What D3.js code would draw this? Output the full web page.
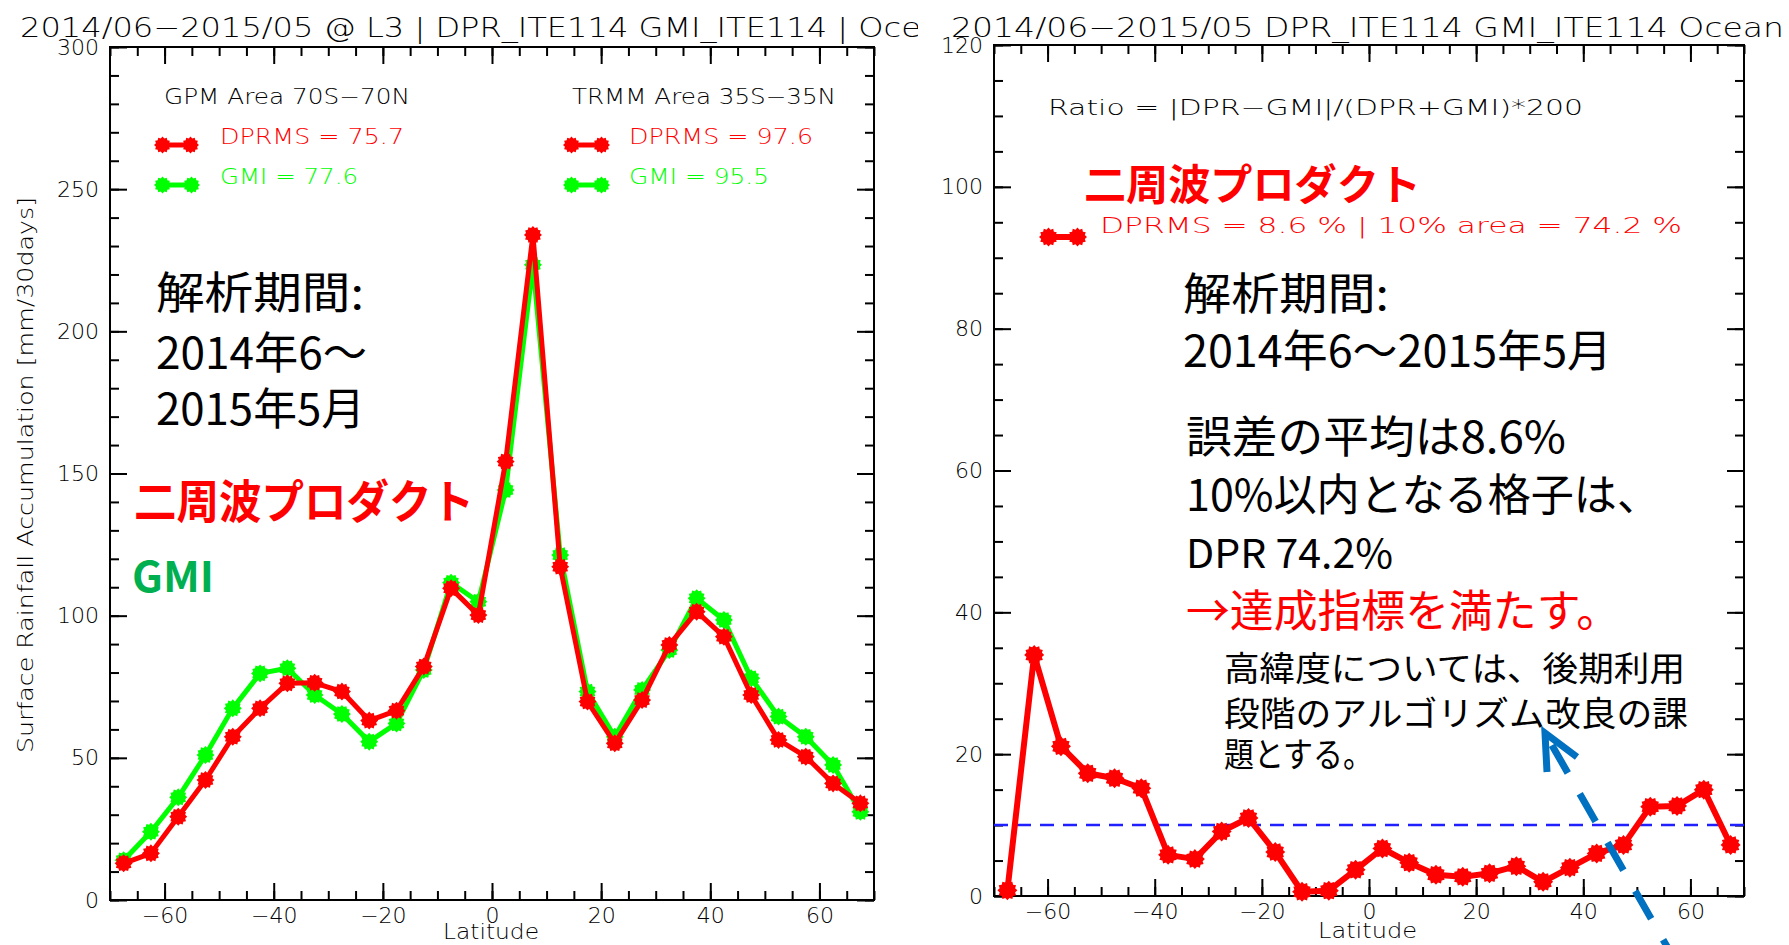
<!DOCTYPE html>
<html>
<head>
<meta charset="utf-8">
<script src="https://cdn.jsdelivr.net/npm/d3@7"></script>
<style>
  html, body { margin: 0; padding: 0; background: #fff; }
  svg { display: block; }
  .idl { font-family: "DejaVu Sans", sans-serif; font-weight: 200; }
  .jp { font-family: "Noto Sans CJK JP", "Noto Sans CJK SC", sans-serif; }
</style>
</head>
<body>
<svg id="chart" width="1789" height="945"></svg>
<script>
// Zonal mean over ocean, 5-degree latitude bins (bin centres)
const latitudes = [-67.5, -62.5, -57.5, -52.5, -47.5, -42.5, -37.5, -32.5, -27.5, -22.5,
                   -17.5, -12.5, -7.5, -2.5, 2.5, 7.5, 12.5, 17.5, 22.5, 27.5,
                   32.5, 37.5, 42.5, 47.5, 52.5, 57.5, 62.5, 67.5];

// Surface rainfall accumulation [mm/30days]
const dprAccum = [12.9, 16.4, 29.3, 42.2, 57.4, 67.4, 76.2, 76.4, 73.3, 63.1,
                  66.6, 82.1, 109.6, 100.2, 154.2, 233.9, 117.2, 69.8, 55.1, 70.3,
                  89.7, 101.4, 92.6, 72.1, 56.3, 50.4, 41.0, 34.0];
const gmiAccum = [14.0, 24.0, 36.1, 51.0, 67.4, 79.7, 81.5, 72.1, 65.4, 55.7,
                  62.1, 80.9, 111.6, 104.9, 144.2, 223.4, 121.3, 73.3, 57.4, 73.9,
                  87.9, 106.1, 98.5, 78.0, 64.5, 57.4, 47.5, 31.0];

// Ratio = |DPR-GMI|/(DPR+GMI)*200 [%]
const ratioDiff = [0.8, 34.0, 21.1, 17.3, 16.6, 15.2, 5.8, 5.2, 9.1, 11.0,
                   6.2, 0.6, 0.75, 3.7, 6.7, 4.7, 3.0, 2.7, 3.2, 4.2,
                   2.0, 4.0, 6.0, 7.2, 12.6, 12.7, 15.0, 7.2];
const ratioThreshold = 10;

// Axis ticks
const latTicks = [-60, -40, -20, 0, 20, 40, 60];
const accumTicks = [0, 50, 100, 150, 200, 250, 300];
const ratioTicks = [0, 20, 40, 60, 80, 100, 120];

const RED = "#ff0000", GREEN = "#00ff00", BLUE = "#2020ff", ARROW = "#0070c0";

const svg = d3.select("#chart");

// ---------- scales ----------
const xL = d3.scaleLinear().domain([-70, 70]).range([110, 874]);
const yL = d3.scaleLinear().domain([0, 300]).range([900, 47]);
const xR = d3.scaleLinear().domain([-70, 70]).range([994, 1744]);
const yR = d3.scaleLinear().domain([0, 120]).range([896, 45]);

// ---------- helpers ----------
function styleAxis(sel) {
  sel.select(".domain").remove();
  sel.selectAll("line").attr("stroke", "#000").attr("stroke-width", 2);
  sel.selectAll("text").attr("class", "idl").style("font-size", "22px").attr("fill", "#000");
  sel.attr("font-family", null).attr("font-size", null);
}

function frame(g, x, y, yMajor, yMinorCount) {
  const [x0, x1] = x.range();
  const [yb, yt] = y.range();
  const xMinor = x.ticks(28);
  const yMinor = y.ticks(yMinorCount);
  const none = () => "";
  // bottom
  g.append("g").attr("transform", `translate(0,${yb})`)
    .call(d3.axisBottom(x).tickValues(xMinor).tickSize(-9).tickFormat(none)).call(styleAxis);
  g.append("g").attr("transform", `translate(0,${yb})`)
    .call(d3.axisBottom(x).tickValues(latTicks).tickSize(-17).tickPadding(7)).call(styleAxis);
  // top
  g.append("g").attr("transform", `translate(0,${yt})`)
    .call(d3.axisTop(x).tickValues(xMinor).tickSize(-9).tickFormat(none)).call(styleAxis);
  g.append("g").attr("transform", `translate(0,${yt})`)
    .call(d3.axisTop(x).tickValues(latTicks).tickSize(-17).tickFormat(none)).call(styleAxis);
  // left
  g.append("g").attr("transform", `translate(${x0},0)`)
    .call(d3.axisLeft(y).tickValues(yMinor).tickSize(-9).tickFormat(none)).call(styleAxis);
  g.append("g").attr("transform", `translate(${x0},0)`)
    .call(d3.axisLeft(y).tickValues(yMajor).tickSize(-17).tickPadding(11)).call(styleAxis);
  // right
  g.append("g").attr("transform", `translate(${x1},0)`)
    .call(d3.axisRight(y).tickValues(yMinor).tickSize(-9).tickFormat(none)).call(styleAxis);
  g.append("g").attr("transform", `translate(${x1},0)`)
    .call(d3.axisRight(y).tickValues(yMajor).tickSize(-17).tickFormat(none)).call(styleAxis);
  // box
  g.append("rect").attr("x", x0).attr("y", yt).attr("width", x1 - x0).attr("height", yb - yt)
    .attr("fill", "none").attr("stroke", "#000").attr("stroke-width", 2);
}

// jagged filled disc, like the plotting symbol
function blob(r) {
  const n = 12, pts = [];
  for (let i = 0; i < n * 2; i++) {
    const a = (i / (n * 2)) * Math.PI * 2;
    const rr = i % 2 === 0 ? r : r * 0.8;
    pts.push([rr * Math.cos(a), rr * Math.sin(a)]);
  }
  return "M" + pts.map(p => p[0].toFixed(2) + "," + p[1].toFixed(2)).join("L") + "Z";
}

function series(g, x, y, values, color, width, r) {
  const data = latitudes.map((lat, i) => ({ lat, v: values[i] }));
  g.append("path").datum(data)
    .attr("fill", "none").attr("stroke", color).attr("stroke-width", width)
    .attr("stroke-linejoin", "round")
    .attr("d", d3.line().x(d => x(d.lat)).y(d => y(d.v)));
  g.selectAll(null).data(data).enter().append("path")
    .attr("transform", d => `translate(${x(d.lat)},${y(d.v)})`)
    .attr("d", blob(r)).attr("fill", color);
}

function legendMark(g, xa, xb, y, color, width, r) {
  g.append("line").attr("x1", xa + r).attr("x2", xb - r).attr("y1", y).attr("y2", y)
    .attr("stroke", color).attr("stroke-width", width);
  [xa + r, xb - r].forEach(cx => g.append("path")
    .attr("transform", `translate(${cx},${y})`).attr("d", blob(r)).attr("fill", color));
}

function label(g, text, x0, x1, cy, size, color, cls, weight) {
  return g.append("text").attr("class", cls)
    .attr("x", x0).attr("y", cy).attr("dominant-baseline", "central")
    .attr("textLength", x1 - x0).attr("lengthAdjust", "spacingAndGlyphs")
    .style("font-size", size + "px").style("font-weight", weight || null)
    .attr("fill", color).text(text);
}

// ---------- left panel: accumulation ----------
const left = svg.append("g");
svg.append("clipPath").attr("id", "leftClip").append("rect")
  .attr("x", 0).attr("y", 0).attr("width", 918).attr("height", 80);

const tL = left.append("text").attr("class", "idl").attr("clip-path", "url(#leftClip)")
  .attr("x", 20).attr("y", 27).attr("dominant-baseline", "central")
  .style("font-size", "27px").attr("fill", "#000")
  .text("2014/06\u22122015/05 @ L3 | DPR_ITE114 GMI_ITE114 | Ocean");
{
  const node = tL.node();
  const full = node.getComputedTextLength();
  const sub = node.getSubStringLength(0, 50);
  tL.attr("textLength", full * 901 / sub).attr("lengthAdjust", "spacingAndGlyphs");
}

frame(left, xL, yL, accumTicks, 30);

series(left, xL, yL, gmiAccum, GREEN, 5, 9);
series(left, xL, yL, dprAccum, RED, 5, 9);

label(left, "GPM Area 70S\u221270N", 164, 410, 96, 22, "#000", "idl");
label(left, "TRMM Area 35S\u221235N", 572, 836, 96, 22, "#000", "idl");
legendMark(left, 154, 199, 145, RED, 5, 8.5);
label(left, "DPRMS = 75.7", 220, 404, 136, 22, RED, "idl");
legendMark(left, 154, 200, 185, GREEN, 5, 8.5);
label(left, "GMI = 77.6", 220, 358, 176, 22, GREEN, "idl");
legendMark(left, 563, 610, 145, RED, 5, 8.5);
label(left, "DPRMS = 97.6", 629, 813, 136, 22, RED, "idl");
legendMark(left, 563, 610, 185, GREEN, 5, 8.5);
label(left, "GMI = 95.5", 629, 769, 176, 22, GREEN, "idl");

left.append("text").attr("class", "idl")
  .attr("transform", "translate(25,475) rotate(-90)")
  .attr("text-anchor", "middle").attr("dominant-baseline", "central")
  .attr("textLength", 556).attr("lengthAdjust", "spacingAndGlyphs")
  .style("font-size", "22px").attr("fill", "#000")
  .text("Surface Rainfall Accumulation [mm/30days]");
label(left, "Latitude", 443, 539, 932, 21, "#000", "idl");

label(left, "解析期間:", 156, 364, 290, 44, "#000", "jp");
label(left, "2014年6〜", 156, 367, 350, 44, "#000", "jp");
label(left, "2015年5月", 156, 365, 406, 44, "#000", "jp");
label(left, "二周波プロダクト", 134, 474, 498, 46, RED, "jp", 700);
label(left, "GMI", 132, 214, 573, 42, "#00b050", "jp", 700);

// ---------- right panel: ratio ----------
const right = svg.append("g");

label(right, "2014/06\u22122015/05 DPR_ITE114 GMI_ITE114 Ocean", 951, 1784, 27, 27, "#000", "idl");

frame(right, xR, yR, ratioTicks, 24);

right.append("line")
  .attr("x1", xR.range()[0]).attr("x2", xR.range()[1])
  .attr("y1", yR(ratioThreshold)).attr("y2", yR(ratioThreshold))
  .attr("stroke", BLUE).attr("stroke-width", 2.5).attr("stroke-dasharray", "14,9");

series(right, xR, yR, ratioDiff, RED, 6, 10);

label(right, "Ratio = |DPR\u2212GMI|/(DPR+GMI)*200", 1048, 1583, 107, 22, "#000", "idl");
label(right, "二周波プロダクト", 1084, 1421, 181, 42, RED, "jp", 700);
legendMark(right, 1039, 1087, 237, RED, 6, 9.5);
label(right, "DPRMS = 8.6 % | 10% area = 74.2 %", 1100, 1682, 225, 22, RED, "idl");
label(right, "Latitude", 1318, 1417, 931, 21, "#000", "idl");

label(right, "解析期間:", 1183, 1389, 291, 44, "#000", "jp");
label(right, "2014年6〜2015年5月", 1183, 1612, 348, 44, "#000", "jp");
label(right, "誤差の平均は8.6%", 1186, 1566, 434, 44, "#000", "jp");
label(right, "10%以内となる格子は、", 1186, 1660, 492, 44, "#000", "jp");
label(right, "DPR 74.2%", 1186, 1393, 551, 40, "#000", "jp");
label(right, "→達成指標を満たす。", 1186, 1620, 608, 44, RED, "jp");

label(right, "高緯度については、後期利用", 1224, 1685, 666, 34, "#000", "jp");
label(right, "段階のアルゴリズム改良の課", 1224, 1688, 711, 34, "#000", "jp");
label(right, "題とする。", 1224, 1373, 752, 34, "#000", "jp");

// dashed pointer towards the high-latitude remark
{
  const tip = [1545, 733];
  const dir = [0.496, 0.868];
  const len = 260;
  const arrow = right.append("g").attr("stroke", ARROW).attr("stroke-width", 7).attr("fill", "none");
  arrow.append("line")
    .attr("x1", tip[0]).attr("y1", tip[1])
    .attr("x2", tip[0] + dir[0] * len).attr("y2", tip[1] + dir[1] * len)
    .attr("stroke-dasharray", "32,24").attr("stroke-dashoffset", 42);
  arrow.append("path")
    .attr("d", `M${tip[0] + 2},${tip[1] + 39} L${tip[0]},${tip[1]} L${tip[0] + 32},${tip[1] + 24}`)
    .attr("stroke-linejoin", "miter");
}
</script>
</body>
</html>
